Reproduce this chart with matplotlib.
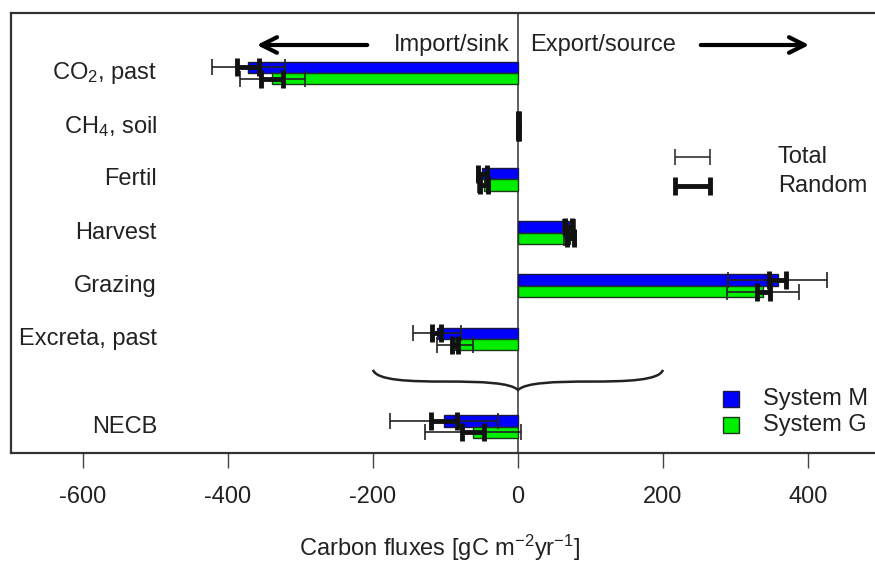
import matplotlib
matplotlib.use("Agg")
import matplotlib.pyplot as plt
import numpy as np
from matplotlib.path import Path
from matplotlib.patches import PathPatch

plt.rcParams['font.family'] = ['Liberation Sans', 'DejaVu Sans']
plt.rcParams['mathtext.fontset'] = 'custom'
plt.rcParams['mathtext.rm'] = 'Liberation Sans'
plt.rcParams['mathtext.it'] = 'Liberation Sans:italic'
plt.rcParams['mathtext.default'] = 'regular'

# ---- data ----
categories = ['CO$_2$, past', 'CH$_4$, soil', 'Fertil', 'Harvest', 'Grazing',
              'Excreta, past', 'NECB']
cat_pos = [0, 1, 2, 3, 4, 5, 6.65]
sysM = [-372, 1, -49, 70, 358, -112, -102]
sysM_total = [50, 2, 8, 8, 68, 33, 74]
sysM_random = [15, 1, 6, 5, 12, 6, 18]
sysG = [-339, 1, -47, 72, 338, -87, -62]
sysG_total = [45, 2, 8, 8, 50, 25, 66]
sysG_random = [15, 1, 6, 5, 9, 4, 15]
xticks = [-600, -400, -200, 0, 200, 400]

W, H = 875, 565
PX = 0.725          # pixels per data unit (x)
X0 = 518            # pixel of x = 0
YPX0, YSTEP = 73, 53.2


def dx(px):
    return (px - X0) / PX


def dy(py):
    return (py - YPX0) / YSTEP


fig = plt.figure(figsize=(W / 100, H / 100), dpi=100)
ax = fig.add_axes([10.5 / W, (H - 453) / H, 890 / W, 440 / H])
ax.set_xlim(-700, -700 + 890 / PX)
ax.set_ylim(dy(453), dy(13))

bh = 0.215
pos = np.array(cat_pos)
yM = pos - bh / 2
yG = pos + bh / 2

ax.barh(yM, sysM, height=bh, color='#0000ff', edgecolor='#1a1a40', linewidth=1.0, zorder=2)
ax.barh(yG, sysG, height=bh, color='#00ee00', edgecolor='#1a3a1a', linewidth=1.0, zorder=2)

for y, v, et, er in [(yM, sysM, sysM_total, sysM_random), (yG, sysG, sysG_total, sysG_random)]:
    ax.errorbar(v, y, xerr=et, fmt='none', ecolor='#222222', elinewidth=1.2,
                capsize=6, capthick=1.2, zorder=3)
    ax.errorbar(v, y, xerr=er, fmt='none', ecolor='#111111', elinewidth=3.5,
                capsize=6.5, capthick=3.5, zorder=4)

# zero line
ax.axvline(0, color='#444444', lw=1.2, zorder=1)

# category labels inside axes
for p, c in zip(cat_pos, categories):
    ax.text(dx(157), p, c, ha='right', va='center', fontsize=17, color='#222222')

# arrows and labels
ya = dy(45)
ax.annotate('', xy=(dx(254), ya), xytext=(dx(370), ya),
            arrowprops=dict(arrowstyle='->', lw=3, color='black', mutation_scale=28))
ax.annotate('', xy=(dx(812), ya), xytext=(dx(698), ya),
            arrowprops=dict(arrowstyle='->', lw=3, color='black', mutation_scale=28))
ax.text(dx(510), ya, 'Import/sink', ha='right', va='center', fontsize=17, color='#222222')
ax.text(dx(530), ya, 'Export/source', ha='left', va='center', fontsize=17, color='#222222')

# brace
verts = [(-200, 5.58), (-195, 5.78), (-150, 5.80), (-100, 5.80),
         (-50, 5.80), (-10, 5.82), (0, 5.96),
         (10, 5.82), (50, 5.80), (100, 5.80),
         (150, 5.80), (195, 5.78), (200, 5.58)]
codes = [Path.MOVETO] + [Path.CURVE4] * 12
ax.add_patch(PathPatch(Path(verts, codes), fill=False, lw=1.8, color='#222222', zorder=2))

# error-bar legend
xl = 0.5 * (dx(675) + dx(710))
hw = 0.5 * (dx(710) - dx(675))
ax.errorbar([xl], [dy(157)], xerr=[hw], fmt='none', ecolor='#333333',
            elinewidth=1.2, capsize=6, capthick=1.2)
ax.errorbar([xl], [dy(186)], xerr=[hw], fmt='none', ecolor='#111111',
            elinewidth=3.5, capsize=6.5, capthick=3.5)
ax.text(dx(778), dy(157), 'Total', ha='left', va='center', fontsize=17, color='#222222')
ax.text(dx(778), dy(186), 'Random', ha='left', va='center', fontsize=17, color='#222222')

# system legend
for ypx, col, ec, lab in [(399, '#0000ff', '#1a1a40', 'System M'),
                          (425, '#00ee00', '#1a3a1a', 'System G')]:
    ax.plot([dx(731)], [dy(ypx)], marker='s', ms=12, mfc=col, mec=ec, mew=1.0, ls='none')
    ax.text(dx(763), dy(ypx), lab, ha='left', va='center', fontsize=17, color='#222222')

ax.set_xticks(xticks)
ax.set_xticklabels([str(t) for t in xticks], fontsize=17, color='#222222')
ax.set_yticks([])
ax.tick_params(axis='x', length=11, width=1.0, color='#444444', pad=13)
for s in ax.spines.values():
    s.set_linewidth(1.6)
    s.set_color('#333333')

fig.text(440 / W, 1 - 548 / H, 'Carbon fluxes [gC m$^{-2}$yr$^{-1}$]', ha='center',
         va='center', fontsize=17, color='#222222')

fig.savefig('out.png', dpi=100)
